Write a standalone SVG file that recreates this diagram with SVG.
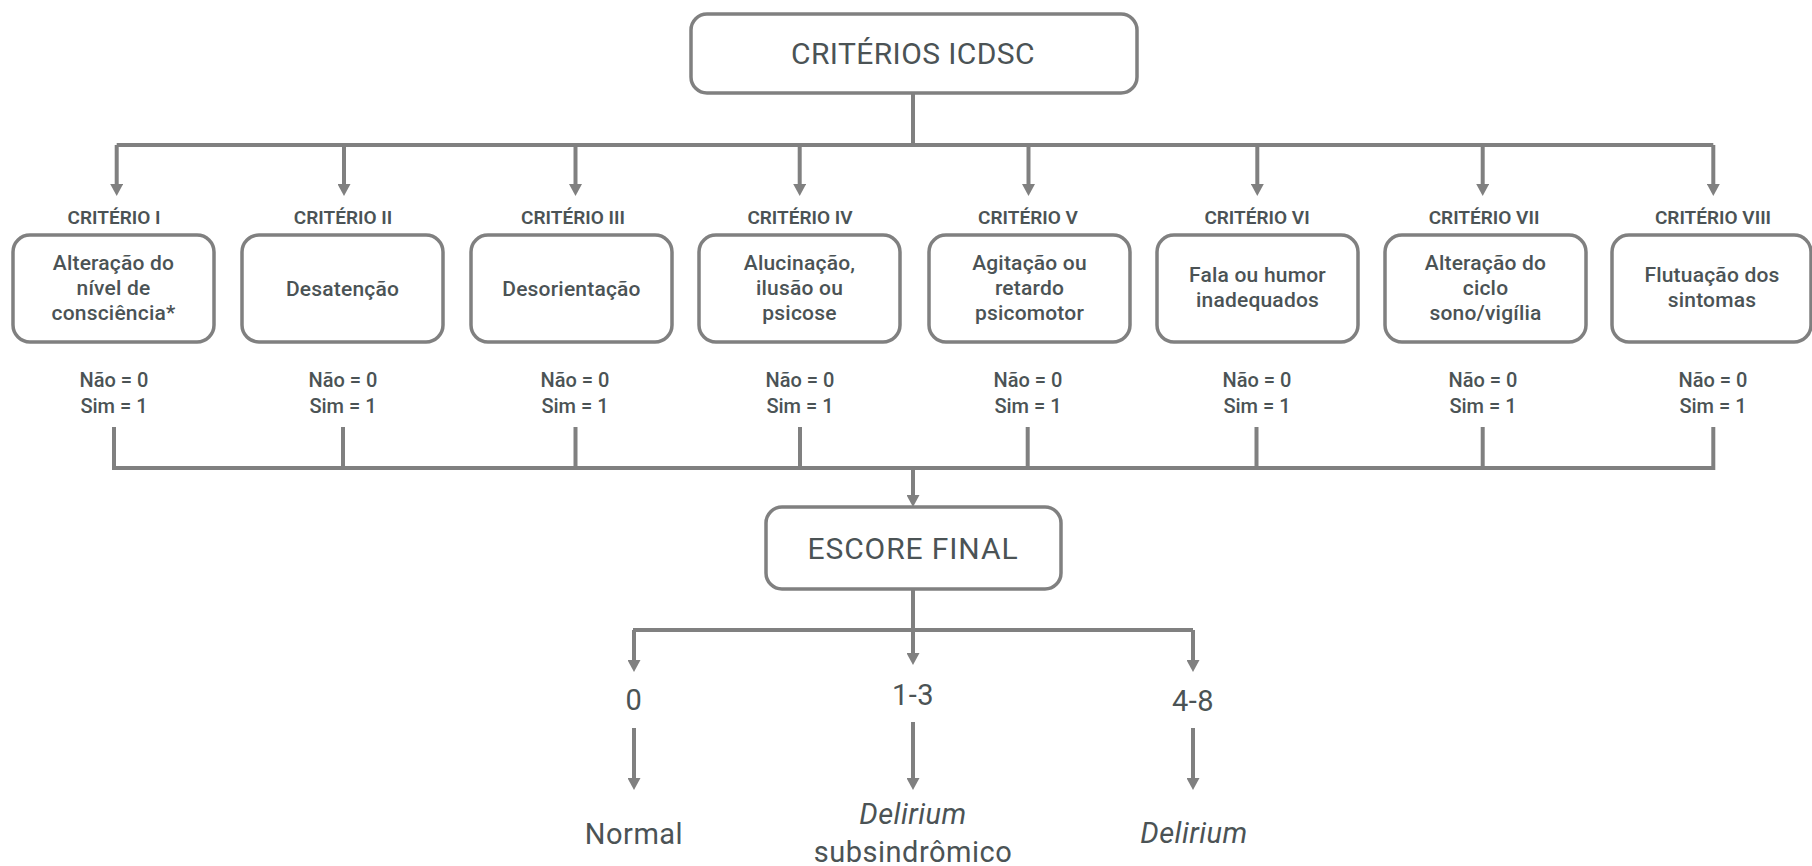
<svg xmlns="http://www.w3.org/2000/svg" width="1812" height="866" viewBox="0 0 1812 866">
<style>
.box{fill:#fff;stroke:#808080;stroke-width:3.5}
.ln{fill:none;stroke:#808080;stroke-width:4}
.t{font-family:Roboto,"Liberation Sans",sans-serif;fill:#4b5355;text-anchor:middle;font-weight:500}
.title{font-size:30px;letter-spacing:0.4px;font-weight:400}
.crit{font-size:19px;font-weight:600}
.body{font-size:21px;letter-spacing:0.2px}
.score{font-size:20px}
.big{font-size:29px;letter-spacing:0.5px;font-weight:400}
.it{font-style:italic}
</style>
<defs>
<marker id="ah" viewBox="0 0 12 13" refX="2" refY="6.5" markerWidth="12" markerHeight="13" markerUnits="userSpaceOnUse" orient="auto">
<path d="M0,0 L12,6.5 L0,13 z" fill="#808080"/>
</marker>
</defs>

<g id="connectors">
<path class="ln" d="M913,93 V145 M116.7,145 H1713.3"/>
<path class="ln" marker-end="url(#ah)" d="M116.7,145 V186"/>
<path class="ln" marker-end="url(#ah)" d="M344,145 V186"/>
<path class="ln" marker-end="url(#ah)" d="M575.5,145 V186"/>
<path class="ln" marker-end="url(#ah)" d="M799.7,145 V186"/>
<path class="ln" marker-end="url(#ah)" d="M1028.5,145 V186"/>
<path class="ln" marker-end="url(#ah)" d="M1257.3,145 V186"/>
<path class="ln" marker-end="url(#ah)" d="M1482.7,145 V186"/>
<path class="ln" marker-end="url(#ah)" d="M1713.3,145 V186"/>
<path class="ln" d="M114,427 V468 M343,427 V468 M575.5,427 V468 M800,427 V468 M1027.7,427 V468 M1256.5,427 V468 M1482.7,427 V468 M1713.3,427 V468 M112,468 H1715.3"/>
<path class="ln" marker-end="url(#ah)" d="M913,468 V497"/>
<path class="ln" d="M913,589 V630 M633,630 H1193"/>
<path class="ln" marker-end="url(#ah)" d="M634,630 V662"/>
<path class="ln" marker-end="url(#ah)" d="M913,630 V655"/>
<path class="ln" marker-end="url(#ah)" d="M1193,630 V662"/>
<path class="ln" marker-end="url(#ah)" d="M634,728 V780"/>
<path class="ln" marker-end="url(#ah)" d="M913,722 V780"/>
<path class="ln" marker-end="url(#ah)" d="M1193,728 V780"/>
</g>

<g id="criterios-icdsc">
<rect class="box" x="691" y="14" width="446" height="79" rx="16"/>
<text class="t title" x="913" y="64">CRITÉRIOS ICDSC</text>
</g>

<g id="criterio-1">
<text class="t crit" x="114" y="224">CRITÉRIO I</text>
<rect class="box" x="13" y="235" width="201" height="107" rx="17"/>
<text class="t body" x="113.5" y="270">Alteração do</text>
<text class="t body" x="113.5" y="295">nível de</text>
<text class="t body" x="113.5" y="320">consciência*</text>
<text class="t score" x="114" y="387">Não = 0</text>
<text class="t score" x="114" y="413">Sim = 1</text>
</g>

<g id="criterio-2">
<text class="t crit" x="343" y="224">CRITÉRIO II</text>
<rect class="box" x="242" y="235" width="201" height="107" rx="17"/>
<text class="t body" x="342.5" y="296">Desatenção</text>
<text class="t score" x="343" y="387">Não = 0</text>
<text class="t score" x="343" y="413">Sim = 1</text>
</g>

<g id="criterio-3">
<text class="t crit" x="573" y="224">CRITÉRIO III</text>
<rect class="box" x="471" y="235" width="201" height="107" rx="17"/>
<text class="t body" x="571.5" y="296">Desorientação</text>
<text class="t score" x="575" y="387">Não = 0</text>
<text class="t score" x="575" y="413">Sim = 1</text>
</g>

<g id="criterio-4">
<text class="t crit" x="800" y="224">CRITÉRIO IV</text>
<rect class="box" x="699" y="235" width="201" height="107" rx="17"/>
<text class="t body" x="799.5" y="270">Alucinação,</text>
<text class="t body" x="799.5" y="295">ilusão ou</text>
<text class="t body" x="799.5" y="320">psicose</text>
<text class="t score" x="800" y="387">Não = 0</text>
<text class="t score" x="800" y="413">Sim = 1</text>
</g>

<g id="criterio-5">
<text class="t crit" x="1028" y="224">CRITÉRIO V</text>
<rect class="box" x="929" y="235" width="201" height="107" rx="17"/>
<text class="t body" x="1029.5" y="270">Agitação ou</text>
<text class="t body" x="1029.5" y="295">retardo</text>
<text class="t body" x="1029.5" y="320">psicomotor</text>
<text class="t score" x="1028" y="387">Não = 0</text>
<text class="t score" x="1028" y="413">Sim = 1</text>
</g>

<g id="criterio-6">
<text class="t crit" x="1257" y="224">CRITÉRIO VI</text>
<rect class="box" x="1157" y="235" width="201" height="107" rx="17"/>
<text class="t body" x="1257.5" y="282">Fala ou humor</text>
<text class="t body" x="1257.5" y="307">inadequados</text>
<text class="t score" x="1257" y="387">Não = 0</text>
<text class="t score" x="1257" y="413">Sim = 1</text>
</g>

<g id="criterio-7">
<text class="t crit" x="1484" y="224">CRITÉRIO VII</text>
<rect class="box" x="1385" y="235" width="201" height="107" rx="17"/>
<text class="t body" x="1485.5" y="270">Alteração do</text>
<text class="t body" x="1485.5" y="295">ciclo</text>
<text class="t body" x="1485.5" y="320">sono/vigília</text>
<text class="t score" x="1483" y="387">Não = 0</text>
<text class="t score" x="1483" y="413">Sim = 1</text>
</g>

<g id="criterio-8">
<text class="t crit" x="1713" y="224">CRITÉRIO VIII</text>
<rect class="box" x="1612" y="235" width="199" height="107" rx="17"/>
<text class="t body" x="1712" y="282">Flutuação dos</text>
<text class="t body" x="1712" y="307">sintomas</text>
<text class="t score" x="1713" y="387">Não = 0</text>
<text class="t score" x="1713" y="413">Sim = 1</text>
</g>

<g id="escore-final">
<rect class="box" x="766" y="507" width="295" height="82" rx="16"/>
<text class="t title" x="913" y="559" style="letter-spacing:0.9px">ESCORE FINAL</text>
</g>

<g id="score-0">
<text class="t big" x="634" y="710">0</text>
</g>
<g id="score-1-3">
<text class="t big" x="913" y="705">1-3</text>
</g>
<g id="score-4-8">
<text class="t big" x="1193" y="711">4-8</text>
</g>

<g id="normal">
<text class="t big" x="634" y="844">Normal</text>
</g>
<g id="delirium-subsindromico">
<text class="t big it" x="913" y="824">Delirium</text>
<text class="t big" x="913" y="862">subsindrômico</text>
</g>
<g id="delirium">
<text class="t big it" x="1194" y="843">Delirium</text>
</g>
</svg>
